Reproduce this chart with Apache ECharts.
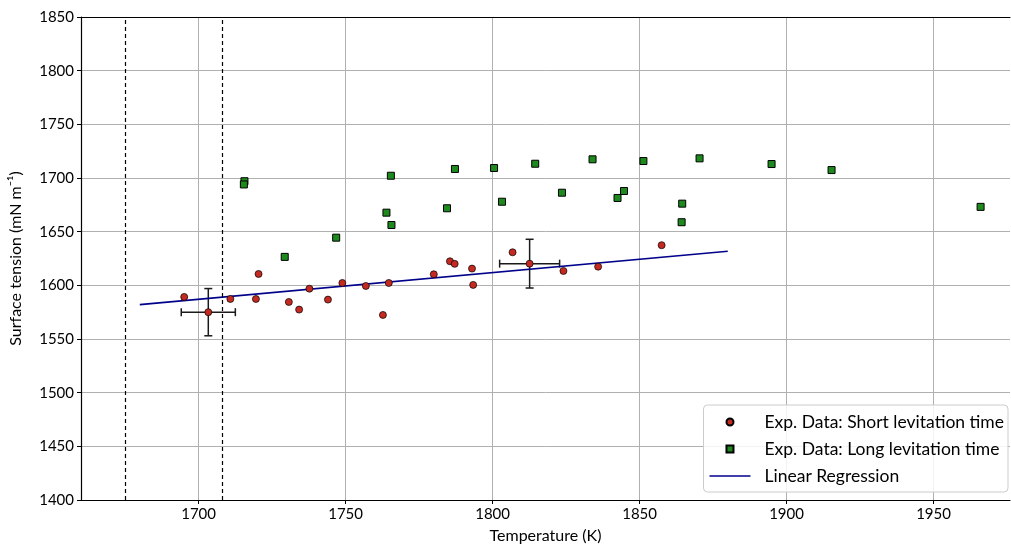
<!DOCTYPE html>
<html>
<head>
<meta charset="utf-8">
<script src="https://cdn.jsdelivr.net/npm/echarts@6/dist/echarts.min.js"></script>
<style>
  html, body { margin: 0; padding: 0; background: #fff; }
  #main { width: 1011px; height: 549px; }
</style>
</head>
<body>
<div id="main"></div>
<script>
// short levitation time (red circles)
var shortT = [1695.1, 1703.3, 1710.8, 1720.4, 1719.5, 1730.7, 1734.2, 1737.7, 1744.0, 1748.9, 1756.9, 1762.7, 1764.7, 1780.0, 1785.5, 1787.1, 1793.0, 1793.4, 1806.8, 1812.6, 1824.1, 1835.9, 1857.5];
var shortS = [1589.2, 1575.0, 1587.3, 1610.6, 1587.3, 1584.5, 1577.4, 1596.9, 1586.7, 1602.2, 1599.4, 1572.4, 1602.2, 1610.3, 1622.4, 1620.0, 1615.6, 1600.4, 1630.8, 1620.2, 1613.4, 1617.4, 1637.4];
// long levitation time (green squares)
var longT = [1715.6, 1715.4, 1729.3, 1746.8, 1765.4, 1763.9, 1765.6, 1784.5, 1787.2, 1800.5, 1803.2, 1814.5, 1823.6, 1834.0, 1842.5, 1844.7, 1851.3, 1864.5, 1864.3, 1870.4, 1894.9, 1915.3, 1966.0];
var longS = [1697.0, 1694.0, 1626.5, 1644.4, 1702.1, 1667.7, 1656.2, 1671.8, 1708.4, 1709.3, 1677.9, 1713.3, 1686.3, 1717.4, 1681.4, 1687.9, 1715.8, 1676.1, 1658.8, 1718.3, 1713.0, 1707.4, 1673.1];
// error bars
var errT = [1703.3, 1812.6];
var errS = [1575.0, 1620.2];
var errDT = [9.2, 10.2];
var errDS = [22.0, 22.7];
// linear regression end points
var regT = [1680, 1880];
var regS = [1582.0, 1631.7];
// dashed vertical lines
var limits = [1675, 1708];
var xTicks = [1700, 1750, 1800, 1850, 1900, 1950];

function zip(a, b) {
  return a.map(function (v, i) { return [v, b[i]]; });
}

var errData = errT.map(function (t, i) { return [t, errS[i], errDT[i], errDS[i]]; });

var font = 'Lato, "DejaVu Sans", sans-serif';

// legend icons drawn inside a 41x14 box so the markers stay small
var iconDot = 'path://M0,0 M41,14 M17,7 A3.5,3.5 0 1,0 24,7 A3.5,3.5 0 1,0 17,7 Z';
var iconSq = 'path://M0,0 M41,14 M17,3.5 L24,3.5 L24,10.5 L17,10.5 Z';
var iconLine = 'path://M0,0 M41,14 M0,6.2 L41,6.2 L41,7.8 L0,7.8 Z';

var myChart = echarts.init(document.getElementById('main'));
var option = {
  animation: false,
  backgroundColor: '#fff',
  grid: { left: 80, top: 17, right: 1, bottom: 48, containLabel: false },
  legend: {
    orient: 'vertical',
    right: 3,
    bottom: 57,
    itemWidth: 41,
    itemHeight: 14,
    itemGap: 9,
    padding: [8, 4, 7, 5],
    backgroundColor: 'rgba(255,255,255,0.85)',
    borderColor: '#cccccc',
    borderWidth: 1,
    borderRadius: 4,
    textStyle: { fontFamily: font, fontSize: 17.5, color: '#000', padding: [0, 0, 0, 9] },
    data: [
      { name: 'Exp. Data: Short levitation time', icon: iconDot },
      { name: 'Exp. Data: Long levitation time', icon: iconSq },
      { name: 'Linear Regression', icon: iconLine, itemStyle: { color: '#00008b', borderWidth: 0 } }
    ]
  },
  xAxis: [{
    type: 'value',
    min: 1660,
    max: 1976,
    name: 'Temperature (K)',
    nameLocation: 'middle',
    nameGap: 28,
    nameTextStyle: { fontFamily: font, fontSize: 16, color: '#000' },
    axisLine: { show: true, lineStyle: { color: '#000', width: 1.2 } },
    axisTick: { show: true, length: 4, customValues: xTicks, lineStyle: { color: '#000' } },
    axisLabel: {
      customValues: xTicks, fontFamily: font, fontSize: 15, color: '#000', margin: 7,
      formatter: function (v) { return String(v); }
    },
    splitLine: { show: true, lineStyle: { color: '#b0b0b0', width: 1 } }
  }, {
    type: 'value',
    position: 'top',
    min: 1660,
    max: 1976,
    axisLine: { show: true, onZero: false, lineStyle: { color: '#000', width: 1.2 } },
    axisTick: { show: false },
    axisLabel: { show: false },
    splitLine: { show: false }
  }],
  yAxis: {
    type: 'value',
    min: 1400,
    max: 1850,
    interval: 50,
    name: 'Surface tension (mN m⁻¹)',
    nameLocation: 'middle',
    nameGap: 57,
    nameTextStyle: { fontFamily: font, fontSize: 16, color: '#000' },
    axisLine: { show: true, lineStyle: { color: '#000', width: 1.2 } },
    axisTick: { show: true, length: 4, lineStyle: { color: '#000' } },
    axisLabel: {
      fontFamily: font, fontSize: 15, color: '#000', margin: 7,
      formatter: function (v) { return String(v); }
    },
    splitLine: { show: true, lineStyle: { color: '#b0b0b0', width: 1 } }
  },
  series: [
    {
      name: 'limits',
      type: 'line',
      data: [],
      silent: true,
      markLine: {
        silent: true,
        symbol: 'none',
        label: { show: false },
        lineStyle: { color: '#000', type: [4, 3], width: 1.2 },
        data: limits.map(function (v) { return { xAxis: v }; })
      }
    },
    {
      name: 'errorbars',
      type: 'custom',
      z: 2,
      data: errData,
      renderItem: function (params, api) {
        var t = api.value(0), s = api.value(1), dt = api.value(2), ds = api.value(3);
        var l = api.coord([t - dt, s]);
        var r = api.coord([t + dt, s]);
        var b = api.coord([t, s - ds]);
        var tp = api.coord([t, s + ds]);
        var c = 4;
        var st = { stroke: '#1a1a1a', lineWidth: 1.5 };
        return {
          type: 'group',
          children: [
            { type: 'line', shape: { x1: l[0], y1: l[1], x2: r[0], y2: r[1] }, style: st },
            { type: 'line', shape: { x1: l[0], y1: l[1] - c, x2: l[0], y2: l[1] + c }, style: st },
            { type: 'line', shape: { x1: r[0], y1: r[1] - c, x2: r[0], y2: r[1] + c }, style: st },
            { type: 'line', shape: { x1: b[0], y1: b[1], x2: tp[0], y2: tp[1] }, style: st },
            { type: 'line', shape: { x1: b[0] - c, y1: b[1], x2: b[0] + c, y2: b[1] }, style: st },
            { type: 'line', shape: { x1: tp[0] - c, y1: tp[1], x2: tp[0] + c, y2: tp[1] }, style: st }
          ]
        };
      }
    },
    {
      name: 'Exp. Data: Short levitation time',
      type: 'scatter',
      z: 4,
      symbol: 'circle',
      symbolSize: 7,
      data: zip(shortT, shortS),
      itemStyle: { color: '#c42a22', borderColor: '#000', borderWidth: 0.7, opacity: 1 }
    },
    {
      name: 'Exp. Data: Long levitation time',
      type: 'scatter',
      z: 4,
      symbol: 'rect',
      symbolSize: 7,
      data: zip(longT, longS),
      itemStyle: { color: '#1e8a1e', borderColor: '#000', borderWidth: 1, opacity: 1 }
    },
    {
      name: 'Linear Regression',
      type: 'line',
      z: 3,
      symbol: 'none',
      data: zip(regT, regS),
      lineStyle: { color: '#00008b', width: 1.6 },
      itemStyle: { color: '#00008b' }
    }
  ]
};
myChart.setOption(option);
</script>
</body>
</html>
